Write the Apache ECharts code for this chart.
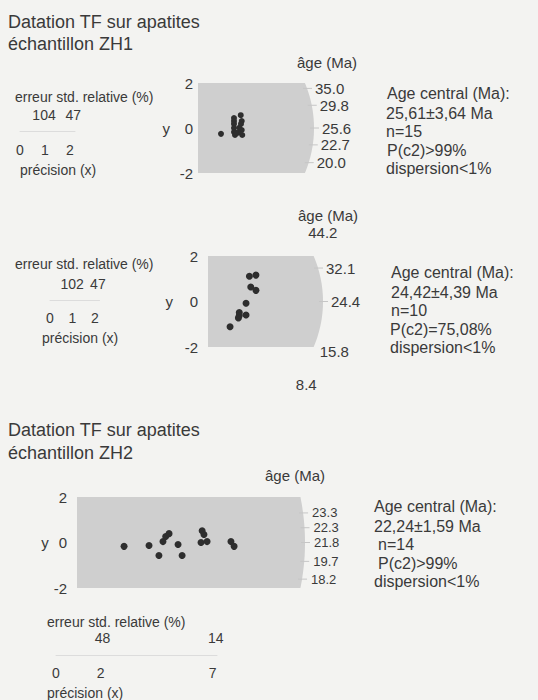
<!DOCTYPE html>
<html><head><meta charset="utf-8">
<script src="https://cdn.jsdelivr.net/npm/echarts@6/dist/echarts.min.js"></script>
<style>html,body{margin:0;padding:0;background:#f3f3f1}#c{width:538px;height:700px}</style>
</head><body><div id="c"></div>
<script>
// ---------------- DATA ----------------
// Panel A : échantillon ZH1 (first radial plot)
const aPrecision = [0.92,1.44,1.44,1.44,1.44,1.44,1.48,1.71,1.75,1.65,1.75,1.77,1.61,1.72,1.52];
const aStdEst    = [-0.26,0.44,0.31,0.18,0.00,-0.18,-0.31,0.57,0.31,0.01,-0.09,-0.31,-0.21,0.18,-0.22];
const aAgeLabels = ['35.0','29.8','25.6','22.7','20.0'];
const aAgeTickY  = [1.76,1.01,0,-0.75,-1.54];
const aPrecTicks = [0,1,2];
const aErrTicks  = [104,47];
const aInfo = ['Age central (Ma):','25,61\u00b13,64 Ma','n=15','P(c2)>99%','dispersion<1%'];

// Panel B : second radial plot
const bPrecision = [1.84,2.13,1.90,2.13,1.69,1.39,1.39,1.69,1.35,0.98];
const bStdEst    = [1.11,1.16,0.64,0.49,-0.08,-0.48,-0.62,-0.59,-0.72,-1.11];
const bAgeLabels = ['44.2','32.1','24.4','15.8','8.4'];
const bAgeTickY  = [3.02,1.47,0,-2.18,-3.64];
const bPrecTicks = [0,1,2];
const bErrTicks  = [102,47];
const bInfo = ['Age central (Ma):','24,42\u00b14,39 Ma','n=10','P(c2)=75,08%','dispersion<1%'];

// Panel C : échantillon ZH2
const cPrecision = [2.09,3.20,3.64,3.82,3.94,4.09,4.49,4.67,5.56,5.64,5.51,5.78,6.84,6.98];
const cStdEst    = [-0.17,-0.13,-0.57,0.04,0.26,0.39,-0.09,-0.57,0.52,0.35,0.00,0.04,0.04,-0.17];
const cAgeLabels = ['23.3','22.3','21.8','19.7','18.2'];
const cAgeTickY  = [1.30,0.65,0,-0.83,-1.61];
const cPrecTicks = [0,2,7];
const cErrTicks  = [48,14];
const cInfo = ['Age central (Ma):','22,24\u00b11,59 Ma','n=14','P(c2)>99%','dispersion<1%'];

const yTickValues = [-2,0,2];
const titleLine1 = 'Datation TF sur apatites';
const titleZH1 = '\u00e9chantillon ZH1';
const titleZH2 = '\u00e9chantillon ZH2';
const ageAxisName = '\u00e2ge (Ma)';
const errAxisName = 'erreur std. relative (%)';
const precAxisName = 'pr\u00e9cision (x)';

// ---------------- LAYOUT / STYLE ----------------
const FONT = '"Liberation Sans", Arial, Helvetica, sans-serif';
const INK = '#3a3a3a';
const FILL = '#cfcfcf';

const panels = [
  { prec:aPrecision, y:aStdEst, ageL:aAgeLabels, ageY:aAgeTickY, precT:aPrecTicks, errT:aErrTicks,
    xmax:4.64, grid:{left:198, top:83, width:116, height:90}, yMargin:5, yNameGap:28, dot:6, ageFont:15, ageGap:8,
    mini:{left:20, top:130, width:55, max:2.2, errMargin:8, precMargin:12} },
  { prec:bPrecision, y:bStdEst, ageL:bAgeLabels, ageY:bAgeTickY, precT:bPrecTicks, errT:bErrTicks,
    xmax:5.11, grid:{left:208, top:256, width:115, height:91}, yMargin:10, yNameGap:35, dot:7, ageFont:15, ageGap:8,
    mini:{left:50, top:299, width:49.5, max:2.2, errMargin:8, precMargin:11} },
  { prec:cPrecision, y:cStdEst, ageL:cAgeLabels, ageY:cAgeTickY, precT:cPrecTicks, errT:cErrTicks,
    xmax:10.13, grid:{left:77, top:497, width:228, height:91}, yMargin:10, yNameGap:24, dot:7, ageFont:13, ageGap:9,
    mini:{left:56, top:654, width:161, max:7.2, errMargin:9, precMargin:11} }
];

const INFO = 16;
const texts = [
  [titleLine1, 8, 22, 18], [titleZH1, 8, 44, 18],
  [ageAxisName, 297, 62, 15], [errAxisName, 15, 97, 14], [precAxisName, 20, 170, 14],
  [aInfo[0], 387, 93, INFO], [aInfo[1], 386, 113, INFO], [aInfo[2], 386, 131, INFO], [aInfo[3], 387, 150, INFO], [aInfo[4], 386, 168, INFO],

  [ageAxisName, 298, 215, 15], [errAxisName, 15, 264, 14], [precAxisName, 42, 338, 14],
  [bInfo[0], 391, 272, INFO], [bInfo[1], 391, 292, INFO], [bInfo[2], 391, 310, INFO], [bInfo[3], 390, 329, INFO], [bInfo[4], 390, 347, INFO],

  [titleLine1, 8, 430, 18], [titleZH2, 8, 453, 18],
  [ageAxisName, 265, 475, 15], [errAxisName, 47, 622, 14], [precAxisName, 47, 693, 14],
  [cInfo[0], 374, 506, INFO], [cInfo[1], 374, 526, INFO], [cInfo[2], 378, 544, INFO], [cInfo[3], 378, 563, INFO], [cInfo[4], 374, 581, INFO]
];

// ---------------- BUILD ----------------
const grid = [], xAxis = [], yAxis = [], series = [];

function regionRenderer(xmax){
  return function(params, api){
    const o = api.coord([0,0]);
    const r = api.coord([xmax,0])[0] - o[0];
    const top = api.coord([0,2])[1], bot = api.coord([0,-2])[1];
    const pts = [[o[0], top]];
    for (let i=0;i<=60;i++){
      const py = top + (bot-top)*i/60, dy = py - o[1];
      pts.push([o[0] + Math.sqrt(Math.max(r*r - dy*dy, 0)), py]);
    }
    pts.push([o[0], bot]);
    return {type:'polygon', shape:{points:pts}, style:{fill:FILL, stroke:null}, silent:true};
  };
}
function ageRenderer(xmax, labels, fontSize, gap){
  return function(params, api){
    const o = api.coord([0,0]);
    const r = api.coord([xmax,0])[0] - o[0];
    const yv = api.value(1), idx = api.value(2);
    const py = api.coord([0,yv])[1], dy = py - o[1];
    const ax = o[0] + Math.sqrt(Math.max(r*r - dy*dy, 0));
    const children = [];
    if (Math.abs(yv) <= 2) {
      children.push({type:'line', shape:{x1:ax-4, y1:py, x2:ax+5, y2:py}, style:{stroke:'#c6c6c6', lineWidth:1}});
    }
    children.push({type:'text', x:ax+gap, y:py, style:{text:labels[idx], fill:INK, font:fontSize + 'px ' + FONT, align:'left', verticalAlign:'middle', textAlign:'left', textVerticalAlign:'middle'}});
    return {type:'group', children};
  };
}

panels.forEach((p, k) => {
  const gi = grid.length;
  grid.push(Object.assign({containLabel:false}, p.grid));
  xAxis.push({gridIndex:gi, type:'value', min:0, max:p.xmax, show:false});
  yAxis.push({gridIndex:gi, type:'value', min:-2, max:2, interval:2,
    axisLine:{show:false}, axisTick:{show:false}, splitLine:{show:false},
    axisLabel:{margin:p.yMargin, fontSize:15, color:INK, fontFamily:FONT, customValues:yTickValues},
    name:'y', nameLocation:'middle', nameRotate:0, nameGap:p.yNameGap,
    nameTextStyle:{fontSize:15, color:INK, fontFamily:FONT}});
  const xi = xAxis.length-1, yi = yAxis.length-1;
  series.push({type:'custom', xAxisIndex:xi, yAxisIndex:yi, data:[[0,0]], renderItem:regionRenderer(p.xmax), clip:false, z:1, silent:true});
  series.push({type:'custom', xAxisIndex:xi, yAxisIndex:yi, data:p.ageY.map((v,i)=>[0,v,i]), renderItem:ageRenderer(p.xmax, p.ageL, p.ageFont, p.ageGap), clip:false, z:2, silent:true});
  series.push({type:'scatter', xAxisIndex:xi, yAxisIndex:yi, data:p.prec.map((x,i)=>[x,p.y[i]]),
    symbol:'circle', symbolSize:p.dot, itemStyle:{color:'#2e2e2e', opacity:1}, z:5, silent:true});

  const mg = grid.length;
  grid.push({left:p.mini.left, top:p.mini.top, width:p.mini.width, height:1});
  xAxis.push({gridIndex:mg, type:'value', min:0, max:p.mini.max, position:'bottom',
    axisLine:{show:true, lineStyle:{color:'#dcdcdc', width:1}}, axisTick:{show:false}, splitLine:{show:false},
    axisLabel:{customValues:p.precT, margin:p.mini.precMargin, fontSize:14, color:INK, fontFamily:FONT, formatter:v=>String(v)}});
  xAxis.push({gridIndex:mg, type:'value', min:0, max:p.mini.max, position:'top',
    axisLine:{show:false}, axisTick:{show:false}, splitLine:{show:false},
    axisLabel:{customValues:p.errT.map(e=>100/e), margin:p.mini.errMargin, fontSize:14, color:INK, fontFamily:FONT,
      formatter:v=>String(Math.round(100/v))}});
  yAxis.push({gridIndex:mg, type:'value', show:false, min:0, max:1});
});

const graphic = texts.map(t => ({type:'text', x:t[1], y:t[2], silent:true,
  style:{text:t[0], fill:INK, font:t[3] + 'px ' + FONT, align:'left', verticalAlign:'middle', textAlign:'left', textVerticalAlign:'middle'}}));

const chart = echarts.init(document.getElementById('c'), null, {renderer:'svg', width:538, height:700});
chart.setOption({backgroundColor:'#f3f3f1', animation:false, grid, xAxis, yAxis, series, graphic});
</script></body></html>
